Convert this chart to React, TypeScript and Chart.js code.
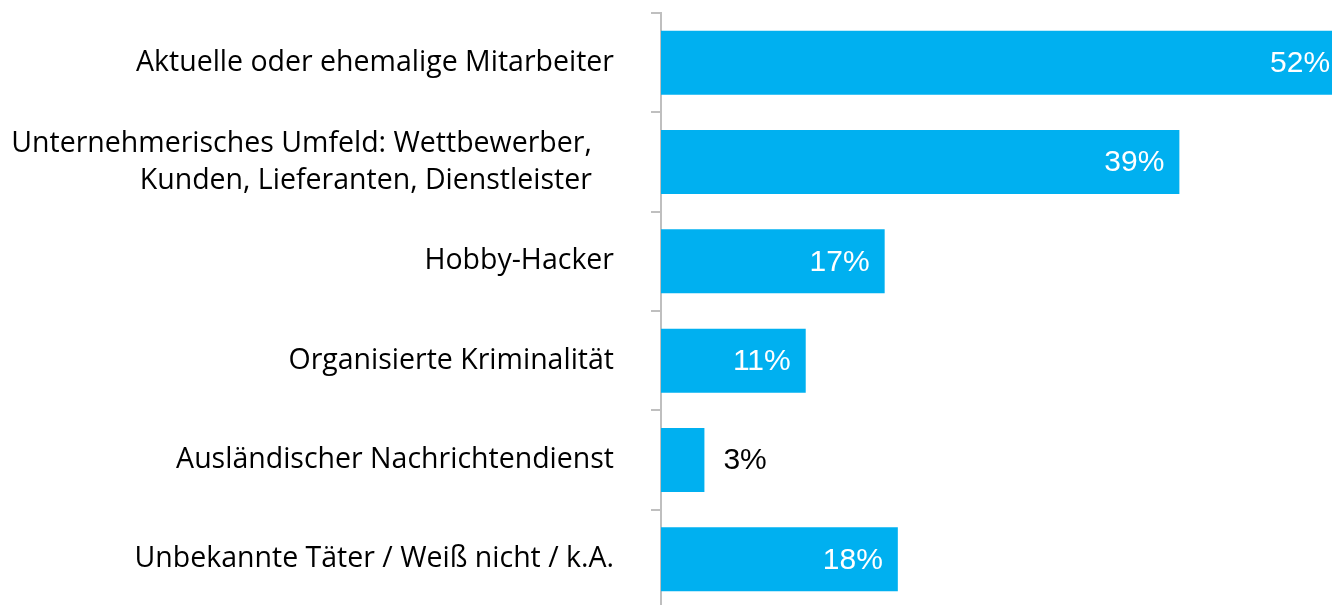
import React, { useEffect, useRef } from "react";
import { Chart, registerables } from "chart.js";

Chart.register(...registerables);

const categories: (string | string[])[] = [
  "Aktuelle oder ehemalige Mitarbeiter",
  ["Unternehmerisches Umfeld: Wettbewerber,   ", "Kunden, Lieferanten, Dienstleister   "],
  "Hobby-Hacker",
  "Organisierte Kriminalität",
  "Ausländischer Nachrichtendienst",
  "Unbekannte Täter / Weiß nicht / k.A.",
];

const values: number[] = [52, 39.4, 17, 11, 3.3, 18];

const BAR_COLOR = "#00B0F0";
const AXIS_COLOR = "#BFBFBF";

const valueLabels = {
  id: "valueLabels",
  afterDatasetsDraw(chart: any) {
    const ctx = chart.ctx;
    const meta = chart.getDatasetMeta(0);
    ctx.save();
    ctx.font = "30px 'Liberation Sans', Arial, sans-serif";
    ctx.textBaseline = "middle";
    meta.data.forEach((bar: any, i: number) => {
      const v = values[i];
      const txt = Math.round(v) + "%";
      if (v >= 5) {
        ctx.fillStyle = "#FFFFFF";
        ctx.textAlign = "right";
        ctx.fillText(txt, bar.x - 15, bar.y + 1);
      } else {
        ctx.fillStyle = "#000000";
        ctx.textAlign = "left";
        ctx.fillText(txt, bar.x + 19, bar.y + 1);
      }
    });
    ctx.restore();
  },
};

export default function App() {
  const ref = useRef<HTMLCanvasElement | null>(null);
  useEffect(() => {
    if (!ref.current) return;
    const chart = new Chart(ref.current, {
      type: "bar",
      data: {
        labels: categories,
        datasets: [
          {
            data: values,
            backgroundColor: BAR_COLOR,
            borderWidth: 0,
            barPercentage: 0.645,
            categoryPercentage: 1,
          },
        ],
      },
      options: {
        indexAxis: "y",
        animation: false,
        responsive: false,
        maintainAspectRatio: false,
        layout: { padding: { top: 13, bottom: 11, left: 0, right: 0 } },
        plugins: {
          legend: { display: false },
          tooltip: { enabled: false },
        },
        scales: {
          x: {
            display: false,
            min: 0,
            max: 51,
          },
          y: {
            afterFit(scale: any) {
              scale.width = 661;
              scale.paddingTop = 0;
              scale.paddingBottom = 0;
            },
            grid: {
              drawOnChartArea: false,
              drawTicks: true,
              tickLength: 10,
              color: AXIS_COLOR,
              lineWidth: 2,
            },
            border: { display: true, color: AXIS_COLOR, width: 2 },
            ticks: {
              padding: 37,
              color: "#000000",
              font: { family: "'Open Sans', sans-serif", size: 28.5, lineHeight: 1.3 },
            },
          },
        },
      },
      plugins: [valueLabels],
    });
    return () => chart.destroy();
  }, []);
  return (
    <div style={{ position: "fixed", left: 0, top: 0, width: 1332, height: 620, background: "#fff" }}>
      <canvas ref={ref} width={1332} height={620} style={{ width: 1332, height: 620, display: "block" }} />
    </div>
  );
}
